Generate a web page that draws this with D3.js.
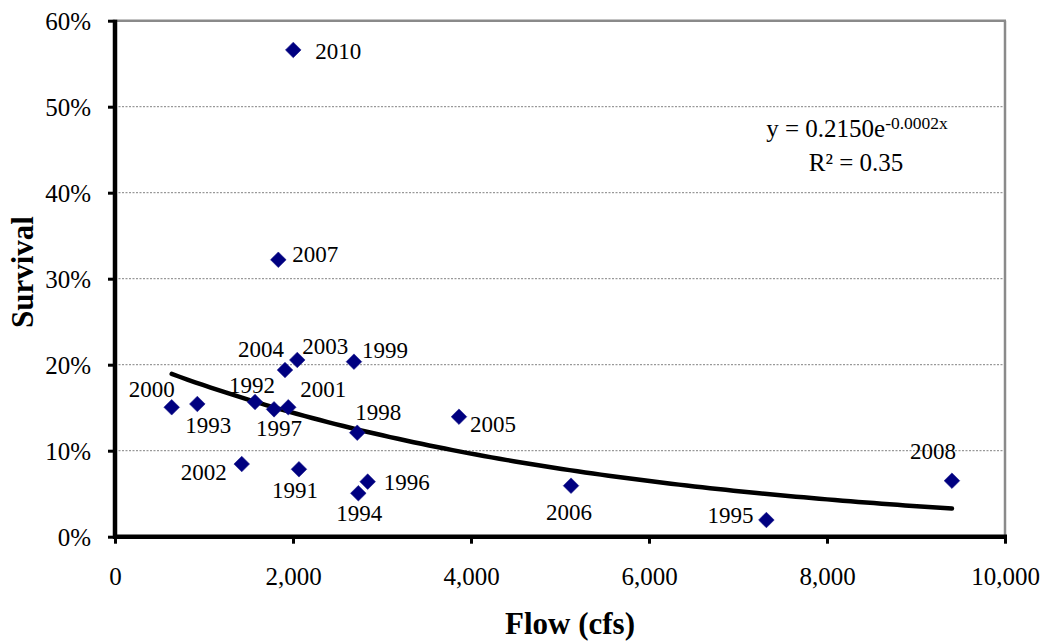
<!DOCTYPE html>
<html><head><meta charset="utf-8">
<script src="https://cdn.jsdelivr.net/npm/d3@7"></script>
<style>
body{margin:0;background:#fff}
svg{display:block}
text{font-family:"Liberation Serif","Times New Roman",Times,serif;fill:#000}
</style>
</head><body>
<svg id="c" width="1044" height="641"></svg>
<script>
// ---- data ----
const years    = [1991, 1992, 1993, 1994, 1995, 1996, 1997, 1998, 1999, 2000, 2001, 2002, 2003, 2004, 2005, 2006, 2007, 2008, 2010];
const flows    = [2067, 1573, 925, 2734, 7319, 2839, 1787, 2722, 2685, 637, 1947, 1424, 2048, 1910, 3865, 5124, 1835, 9404, 2003];
const survival = [0.0784, 0.1566, 0.1543, 0.0505, 0.0194, 0.0640, 0.1481, 0.1209, 0.2035, 0.1505, 0.1505, 0.0845, 0.2055, 0.1938, 0.1395, 0.0593, 0.322, 0.0651, 0.566];
const xTicks = [0, 2000, 4000, 6000, 8000, 10000];
const yTicks = [0, 0.1, 0.2, 0.3, 0.4, 0.5, 0.6];
const trendA = 0.2150, trendB = -0.0002;   // y = 0.2150e^(-0.0002x)
const rSquared = "0.35";
const xTitle = "Flow (cfs)", yTitle = "Survival";

// ---- layout (label offsets: centre dx, baseline dy relative to point) ----
const labelOffsets = [[-4,29],[-3,-9],[11,29],[1,28],[-36,3],[39,8],[5,27],[21,-13],[31,-4],[-20,-10],
                      [35,-10],[-38,16],[28,-6],[-24,-13],[34,15],[-2,34],[37,2],[-19,-22],[45,9]];
const L = 115, R = 1005, T = 20.7, B = 536.7;

const svg = d3.select("#c");
svg.append("rect").attr("width",1044).attr("height",641).attr("fill","#fff");

const x = d3.scaleLinear().domain([0, 10000]).range([L, R]);
const y = d3.scaleLinear().domain([0, 0.6]).range([B, T]);

// gridlines
svg.append("g").selectAll("line").data(yTicks.filter(d => d > 0 && d < 0.6)).join("line")
  .attr("x1", L).attr("x2", R).attr("y1", d => y(d)).attr("y2", d => y(d))
  .attr("stroke", "#606060").attr("stroke-width", 0.8).attr("stroke-dasharray", "2,1.5");
// top & right border
svg.append("line").attr("x1", L).attr("x2", R + 1).attr("y1", y(0.6)).attr("y2", y(0.6))
  .attr("stroke", "#8a8a8a").attr("stroke-width", 2.5);
svg.append("line").attr("x1", R).attr("x2", R).attr("y1", T).attr("y2", B)
  .attr("stroke", "#8a8a8a").attr("stroke-width", 2.5);

// axes
const xAxis = d3.axisBottom(x).tickValues(xTicks).tickSize(7).tickSizeOuter(0)
  .tickFormat(d3.format(","));
const gx = svg.append("g").attr("transform", `translate(0,${B})`).call(xAxis);
gx.attr("font-family", null);
gx.select(".domain").attr("stroke", "#000").attr("stroke-width", 4.5).attr("d", `M${L - 2},0H${R + 2}`);
gx.selectAll(".tick line").attr("stroke", "#000").attr("stroke-width", 3);
gx.selectAll(".tick text").attr("font-size", 25).attr("fill", "#000")
  .attr("y", 0).attr("dy", 0).attr("transform", "translate(0,48)");

const yAxis = d3.axisLeft(y).tickValues(yTicks).tickSize(7).tickSizeOuter(0)
  .tickFormat(d3.format(".0%"));
const gy = svg.append("g").attr("transform", `translate(${L},0)`).call(yAxis);
gy.attr("font-family", null);
gy.select(".domain").attr("stroke", "#000").attr("stroke-width", 4.5).attr("d", `M0,${B + 2}V${T - 1}`);
gy.selectAll(".tick line").attr("stroke", "#000").attr("stroke-width", 3);
gy.selectAll(".tick text").attr("font-size", 25).attr("fill", "#000")
  .attr("x", -24).attr("dy", "0.34em");

// trendline from equation
const fmin = d3.min(flows), fmax = d3.max(flows);
const trendPts = d3.range(0, 101).map(i => {
  const fx = fmin + (fmax - fmin) * i / 100;
  return [fx, trendA * Math.exp(trendB * fx)];
});
svg.append("path").datum(trendPts)
  .attr("d", d3.line().x(d => x(d[0])).y(d => y(d[1])))
  .attr("fill", "none").attr("stroke", "#000").attr("stroke-width", 4.5).attr("stroke-linecap", "round");

// points
const pts = years.map((yr, i) => ({ yr, f: flows[i], s: survival[i], o: labelOffsets[i] }));
svg.append("g").selectAll("path").data(pts).join("path")
  .attr("transform", d => `translate(${x(d.f)},${y(d.s)})`)
  .attr("d", "M0,-7.8L7.8,0L0,7.8L-7.8,0Z")
  .attr("fill", "#000080").attr("stroke", "#1a1a8c").attr("stroke-width", 0.6);

// labels
svg.append("g").selectAll("text").data(pts).join("text")
  .attr("x", d => x(d.f) + d.o[0]).attr("y", d => y(d.s) + d.o[1])
  .attr("text-anchor", "middle").attr("font-size", 23).text(d => d.yr);

// equation
const eq = svg.append("text").attr("x", 857).attr("y", 136.7).attr("text-anchor", "middle").attr("font-size", 25);
eq.append("tspan").text(`y = ${trendA.toFixed(4)}e`);
eq.append("tspan").attr("font-size", 17.5).attr("dy", -8).text(`-${Math.abs(trendB).toFixed(4)}x`);
svg.append("text").attr("x", 856).attr("y", 170.7).attr("text-anchor", "middle").attr("font-size", 25)
  .text(`R² = ${rSquared}`);

// titles
svg.append("text").attr("x", 570).attr("y", 634).attr("text-anchor", "middle")
  .attr("font-size", 31).attr("font-weight", "bold").text(xTitle);
svg.append("text").attr("transform", "translate(33,272) rotate(-90)").attr("text-anchor", "middle")
  .attr("font-size", 31).attr("font-weight", "bold").text(yTitle);
</script>
</body></html>
